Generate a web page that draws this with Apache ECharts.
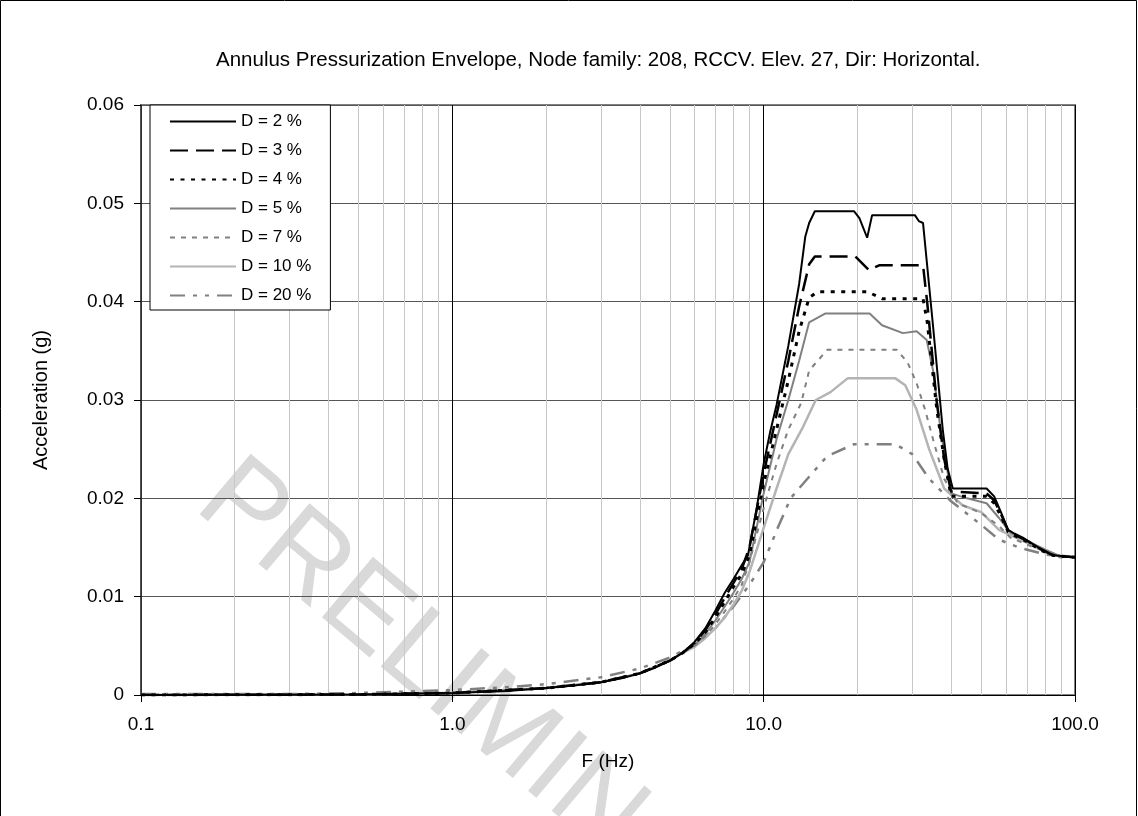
<!DOCTYPE html>
<html>
<head>
<meta charset="utf-8">
<script src="https://cdn.jsdelivr.net/npm/echarts@6/dist/echarts.min.js"></script>
<style>
  html, body { margin: 0; padding: 0; background: #fff; }
  #chart { width: 1138px; height: 816px; }
</style>
</head>
<body>
<div id="chart"></div>
<script>
// frequency (Hz) and acceleration (g) for each damping curve
var freq2 = [0.1, 0.3, 0.5, 1, 1.5, 2, 2.5, 3, 3.5, 4, 4.5, 5, 5.5, 6, 6.5, 7, 7.5, 8, 8.5, 8.9, 9.5, 10, 10.5, 11, 12, 13, 13.6, 14, 14.6, 19.5, 20.3, 21.5, 22.3, 30.6, 31.5, 32.5, 35, 37.6, 39, 40.5, 45, 52, 55, 58, 61, 64, 68, 72, 78, 85, 100];
var acc2 = [0, 0.00002, 0.00005, 0.0002, 0.0004, 0.0007, 0.001, 0.0013, 0.0017, 0.0022, 0.0028, 0.0035, 0.0043, 0.0054, 0.0068, 0.0086, 0.0104, 0.0118, 0.0132, 0.0142, 0.019, 0.0235, 0.0268, 0.0295, 0.0355, 0.0418, 0.0466, 0.048, 0.0492, 0.0492, 0.0485, 0.0465, 0.0488, 0.0488, 0.0482, 0.048, 0.0375, 0.027, 0.023, 0.021, 0.021, 0.021, 0.0202, 0.0185, 0.0168, 0.0164, 0.016, 0.0155, 0.0148, 0.0142, 0.014];

var freq3 = [0.1, 0.5, 1, 2, 3, 4, 5, 5.5, 6, 6.5, 7, 7.5, 8, 8.5, 9, 10, 11, 12, 13, 14, 14.6, 19.7, 21.8, 23.5, 32.5, 33.5, 35.9, 38, 40, 52, 55, 58, 61, 64, 70, 78, 85, 100];
var acc3 = [0, 0.00005, 0.0002, 0.0007, 0.0013, 0.0022, 0.0035, 0.0043, 0.0053, 0.0066, 0.0082, 0.0099, 0.0114, 0.0128, 0.015, 0.0225, 0.0285, 0.034, 0.0395, 0.0438, 0.0446, 0.0446, 0.0432, 0.0437, 0.0437, 0.040, 0.030, 0.024, 0.0207, 0.0205, 0.0198, 0.0183, 0.0167, 0.0163, 0.0157, 0.0148, 0.0142, 0.014];

var freq4 = [0.1, 0.5, 1, 2, 3, 4, 5, 5.5, 6, 6.5, 7, 7.5, 8, 8.5, 9, 10, 11, 12, 13, 14, 14.9, 21.6, 24, 32.5, 33.5, 36, 38, 40, 52, 55, 58, 61, 64, 70, 78, 85, 100];
var acc4 = [0, 0.00005, 0.0002, 0.0007, 0.0013, 0.0022, 0.0035, 0.0043, 0.0052, 0.0064, 0.0079, 0.0095, 0.011, 0.0123, 0.0142, 0.0215, 0.027, 0.032, 0.037, 0.0404, 0.041, 0.041, 0.0403, 0.0403, 0.038, 0.029, 0.024, 0.0202, 0.0202, 0.0195, 0.0181, 0.0166, 0.0162, 0.0156, 0.0147, 0.0142, 0.014];

var freq5 = [0.1, 0.5, 1, 2, 3, 4, 5, 5.5, 6, 6.5, 7, 7.5, 8, 8.5, 9, 10, 11, 12, 13, 14, 15.8, 21.9, 24, 28, 31, 33.4, 35, 37, 40, 45, 52, 57, 62, 70, 80, 90, 100];
var acc5 = [0, 0.00005, 0.0002, 0.0007, 0.0013, 0.0022, 0.0035, 0.0043, 0.0051, 0.0062, 0.0076, 0.009, 0.0104, 0.0118, 0.0135, 0.0205, 0.026, 0.030, 0.034, 0.0379, 0.0388, 0.0388, 0.0376, 0.0368, 0.037, 0.0361, 0.033, 0.027, 0.0205, 0.020, 0.0195, 0.018, 0.0165, 0.0157, 0.0148, 0.0141, 0.014];

var freq7 = [0.1, 0.5, 1, 2, 3, 4, 5, 5.5, 6, 6.5, 7, 7.5, 8, 8.5, 9, 10, 11, 12, 13.2, 14, 16, 26.8, 29, 31, 33, 35, 38, 42, 50, 57, 62, 70, 80, 90, 100];
var acc7 = [0, 0.00006, 0.00022, 0.0007, 0.0013, 0.0022, 0.0035, 0.0043, 0.005, 0.006, 0.0072, 0.0085, 0.0098, 0.0112, 0.0135, 0.019, 0.0235, 0.027, 0.0297, 0.033, 0.0351, 0.0351, 0.0338, 0.0317, 0.029, 0.026, 0.022, 0.0195, 0.0185, 0.0172, 0.016, 0.0153, 0.0146, 0.0141, 0.014];

var freq10 = [0.1, 0.5, 1, 2, 3, 4, 5, 5.5, 6, 6.5, 7, 7.5, 8, 8.5, 9, 10, 11, 12, 13.4, 14.7, 16.4, 18.6, 26.5, 28.5, 31, 34, 38, 43.5, 50, 57, 70, 85, 100];
var acc10 = [0, 0.00006, 0.00023, 0.0007, 0.0013, 0.0022, 0.0035, 0.0043, 0.0049, 0.0058, 0.0068, 0.0079, 0.0092, 0.0106, 0.0125, 0.017, 0.021, 0.0245, 0.0273, 0.030, 0.0308, 0.0322, 0.0322, 0.0315, 0.029, 0.025, 0.021, 0.0193, 0.0186, 0.0168, 0.0155, 0.0142, 0.014];

var freq20 = [0.1, 0.3, 0.5, 1, 1.5, 2, 3, 4, 5, 5.5, 6, 7, 8, 9, 10, 11.1, 12.2, 14, 16, 19.5, 26.5, 30, 34, 40, 50, 57, 66, 78, 90, 100];
var acc20 = [0.0001, 0.0001, 0.0002, 0.0005, 0.0008, 0.0011, 0.0018, 0.0027, 0.0038, 0.0045, 0.0051, 0.0068, 0.009, 0.0112, 0.0135, 0.017, 0.020, 0.0222, 0.0243, 0.0255, 0.0255, 0.0245, 0.022, 0.0197, 0.0173, 0.0158, 0.015, 0.0144, 0.014, 0.014];

var names = ['D = 2 %', 'D = 3 %', 'D = 4 %', 'D = 5 %', 'D = 7 %', 'D = 10 %', 'D = 20 %'];
var minorFreqs = [0.2, 0.3, 0.4, 0.5, 0.6, 0.7, 0.8, 0.9, 2, 3, 4, 5, 6, 7, 8, 9, 20, 30, 40, 50, 60, 70, 80, 90];

var FONT = 'Liberation Sans';

function pairs(f, a) {
    return f.map(function (v, i) { return [v, a[i]]; });
}

var styles = [
    {color: '#000000', width: 2, type: 'solid'},
    {color: '#000000', width: 2.5, type: [18, 8]},
    {color: '#000000', width: 3, type: [4, 6.5]},
    {color: '#808080', width: 2, type: 'solid'},
    {color: '#808080', width: 2, type: [5, 6]},
    {color: '#b4b4b4', width: 2.5, type: 'solid'},
    {color: '#808080', width: 2.5, type: [15, 8, 4, 8, 4, 8]}
];
var dataSets = [pairs(freq2, acc2), pairs(freq3, acc3), pairs(freq4, acc4), pairs(freq5, acc5),
    pairs(freq7, acc7), pairs(freq10, acc10), pairs(freq20, acc20)];

var series = names.map(function (n, i) {
    return {
        name: n,
        type: 'line',
        data: dataSets[i],
        symbol: 'none',
        smooth: false,
        z: 3 + (6 - i),
        lineStyle: styles[i],
        itemStyle: {color: styles[i].color}
    };
});

// minor grid lines and minor ticks of the log axis
series.push({
    name: 'minor',
    type: 'line',
    data: [],
    symbol: 'none',
    clip: false,
    markLine: {
        silent: true,
        z: 1,
        symbol: 'none',
        label: {show: false},
        lineStyle: {color: '#c8c8c8', width: 1, type: 'solid'},
        data: minorFreqs.map(function (v) { return {xAxis: v}; })
    }
});
series.push({
    name: 'minorTick',
    type: 'line',
    data: [],
    symbol: 'none',
    clip: false,
    markLine: {
        silent: true,
        z: 1,
        symbol: 'none',
        label: {show: false},
        lineStyle: {color: '#000', width: 1, type: 'solid'},
        data: minorFreqs.map(function (v) { return [{coord: [v, 0]}, {coord: [v, -0.0007]}]; })
    }
});

var myChart = echarts.init(document.getElementById('chart'));
myChart.setOption({
    animation: false,
    backgroundColor: '#fff',
    textStyle: {fontFamily: FONT},
    title: {
        text: 'Annulus Pressurization Envelope, Node family: 208, RCCV. Elev. 27, Dir: Horizontal.',
        left: 211,
        top: 45,
        textStyle: {fontSize: 20.5, fontWeight: 'normal', color: '#000', fontFamily: FONT}
    },
    graphic: [
        {
            type: 'rect',
            z: 100,
            shape: {x: 0.5, y: 0.5, width: 1136, height: 900},
            style: {fill: 'none', stroke: '#000', lineWidth: 1}
        },
        {
            type: 'text',
            z: -10,
            x: 250,
            y: 440,
            rotation: -0.7,
            style: {text: 'PRELIMINARY', font: '115px "Liberation Sans"', fill: '#d9d9d9'}
        }
    ],
    legend: {
        data: names,
        orient: 'vertical',
        left: 150,
        top: 105,
        itemWidth: 66,
        itemHeight: 14,
        itemGap: 12,
        padding: [8, 19, 6, 19],
        borderColor: '#000',
        borderWidth: 1,
        backgroundColor: '#fff',
        selectedMode: false,
        itemStyle: {opacity: 0},
        textStyle: {fontSize: 17, color: '#000', fontFamily: FONT}
    },
    grid: {
        left: 141,
        right: 63,
        top: 105,
        bottom: 121,
        show: true,
        borderColor: '#808080',
        borderWidth: 2
    },
    xAxis: {
        type: 'log',
        logBase: 10,
        min: 0.1,
        max: 100,
        name: 'F (Hz)',
        nameLocation: 'middle',
        nameGap: 57,
        nameTextStyle: {fontSize: 19, color: '#000', fontFamily: FONT},
        axisLine: {lineStyle: {color: '#000', width: 1}},
        axisTick: {show: true, inside: false, length: 7, lineStyle: {color: '#000'}},
        axisLabel: {
            margin: 20,
            fontSize: 19,
            color: '#000',
            formatter: function (v) { return Number(v).toFixed(1); }
        },
        splitLine: {show: true, lineStyle: {color: '#000', width: 1}}
    },
    yAxis: {
        type: 'value',
        min: 0,
        max: 0.06,
        interval: 0.01,
        name: 'Acceleration (g)',
        nameLocation: 'middle',
        nameGap: 90,
        nameTextStyle: {fontSize: 20, color: '#000', fontFamily: FONT},
        axisLine: {show: true, lineStyle: {color: '#404040', width: 1.5}},
        axisTick: {show: true, inside: false, length: 7, lineStyle: {color: '#000'}},
        axisLabel: {
            margin: 17,
            fontSize: 19,
            color: '#000',
            formatter: function (v) { return v === 0 ? '0' : v.toFixed(2); }
        },
        splitLine: {show: true, lineStyle: {color: '#555', width: 1}}
    },
    series: series
});
</script>
</body>
</html>
